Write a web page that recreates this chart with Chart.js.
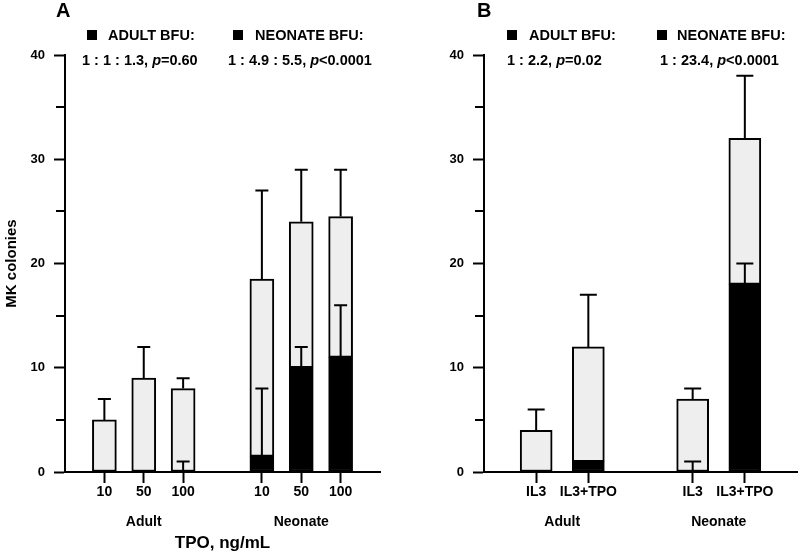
<!DOCTYPE html>
<html><head><meta charset="utf-8">
<script src="https://cdn.jsdelivr.net/npm/chart.js@4.4.1/dist/chart.umd.min.js"></script>
<style>
body{margin:0;background:#fff;}
#wrap{position:relative;width:800px;height:554px;overflow:hidden;background:#fff;}
canvas{position:absolute;top:0;}
.t{position:absolute;font:bold 14.5px/14px "Liberation Sans",Arial,sans-serif;color:#000;white-space:nowrap;z-index:2;}
.sq{position:absolute;width:10px;height:10px;background:#000;z-index:2;}
.h{position:absolute;font:bold 20px/19px "Liberation Sans",Arial,sans-serif;color:#000;z-index:2;}
</style></head>
<body><div id="wrap">
<canvas id="cA" width="400" height="554" style="left:0"></canvas>
<canvas id="cB" width="400" height="554" style="left:400px"></canvas>

<div class="h" style="left:56px;top:1px">A</div>
<div class="sq" style="left:87px;top:29.5px"></div>
<div class="t" style="left:108px;top:28px">ADULT BFU:</div>
<div class="sq" style="left:233px;top:29.5px"></div>
<div class="t" style="left:255px;top:28px">NEONATE BFU:</div>
<div class="t" style="left:82px;top:53px">1 : 1 : 1.3, <i>p</i>=0.60</div>
<div class="t" style="left:228px;top:53px">1 : 4.9 : 5.5, <i>p</i>&lt;0.0001</div>

<div class="h" style="left:477px;top:1px">B</div>
<div class="sq" style="left:507px;top:29.5px"></div>
<div class="t" style="left:529px;top:28px">ADULT BFU:</div>
<div class="sq" style="left:657px;top:29.5px"></div>
<div class="t" style="left:677px;top:28px">NEONATE BFU:</div>
<div class="t" style="left:507px;top:53px">1 : 2.2, <i>p</i>=0.02</div>
<div class="t" style="left:660px;top:53px">1 : 23.4, <i>p</i>&lt;0.0001</div>
</div>
<script>
// ---------- data ----------
const groupLabels = ['Adult', 'Neonate'];

// Panel A: TPO dose (ng/mL)
const tpoDoses = ['10', '50', '100'];
const aAdultTotal   = [5, 9, 8];
const aAdultTotalSD = [2, 3, 1];
const aAdultBFU     = [0, 0, 0];
const aAdultBFUSD   = [0, 0, 1];
const aNeoTotal     = [18.5, 24, 24.5];
const aNeoTotalSD   = [8.5, 5, 4.5];
const aNeoBFU       = [1.5, 10, 11];
const aNeoBFUSD     = [6.5, 2, 5];

// Panel B: cytokine condition
const cytokines = ['IL3', 'IL3+TPO'];
const bAdultTotal   = [4, 12];
const bAdultTotalSD = [2, 5];
const bAdultBFU     = [0, 1];
const bAdultBFUSD   = [0, 0];
const bNeoTotal     = [7, 32];
const bNeoTotalSD   = [1, 6];
const bNeoBFU       = [0, 18];
const bNeoBFUSD     = [1, 2];

const yTickMax = 40;
const yTickStep = 5;
const yLabelStep = 10;

// ---------- helpers ----------
const FONT = '"Liberation Sans", Arial, sans-serif';
Chart.defaults.font.family = FONT;
Chart.defaults.color = '#000';

function pad(a, b) { return [null, ...a, null, ...b, null]; }
function minus(t, s) { return t.map((v, i) => v - s[i]); }

const errorBars = {
  id: 'errorBars',
  afterDatasetsDraw(chart, args, opts) {
    const ctx = chart.ctx, ys = chart.scales.y;
    ctx.save();
    ctx.strokeStyle = '#000';
    ctx.lineWidth = 2;
    chart.data.datasets.forEach((ds, di) => {
      const meta = chart.getDatasetMeta(di);
      meta.data.forEach((el, i) => {
        const top = ds.errTop[i], sd = ds.errSD[i];
        if (top == null || !sd) return;
        const y0 = ys.getPixelForValue(top);
        const y1 = ys.getPixelForValue(top + sd);
        const x = el.x;
        ctx.beginPath();
        ctx.moveTo(x, y0); ctx.lineTo(x, y1);
        ctx.moveTo(x - opts.cap / 2, y1); ctx.lineTo(x + opts.cap / 2, y1);
        ctx.stroke();
      });
    });
    ctx.restore();
  }
};

// short minor ticks on the value axis (positions from the scale's own ticks)
const minorTicks = {
  id: 'minorTicks',
  afterDraw(chart, args, opts) {
    const s = chart.scales.y, ctx = chart.ctx;
    ctx.save();
    ctx.strokeStyle = '#000';
    ctx.lineWidth = 2;
    s.ticks.forEach(t => {
      if (t.value % yLabelStep === 0) return;
      const y = Math.round(s.getPixelForValue(t.value));
      ctx.beginPath();
      ctx.moveTo(s.right - 1 - opts.len, y);
      ctx.lineTo(s.right, y);
      ctx.stroke();
    });
    ctx.restore();
  }
};

function build(id, p) {
  const k = p.cats.length;
  const labels = ['', ...p.cats, '', ...p.cats, ''];
  const n = labels.length - 1;
  // group label axis at half-step resolution
  const gLabels = new Array(2 * n + 1).fill('');
  const adultC = (1 + k) / 2, neoC = adultC + k + 1;
  gLabels[Math.round(2 * adultC)] = groupLabels[0];
  gLabels[Math.round(2 * neoC)] = groupLabels[1];

  const bfu = pad(p.adultBFU, p.neoBFU);
  const rest = pad(minus(p.adultTotal, p.adultBFU), minus(p.neoTotal, p.neoBFU));
  const common = { borderColor: '#000', borderWidth: 2, borderSkipped: false, barThickness: p.barW };
  return new Chart(document.getElementById(id), {
    type: 'bar',
    data: {
      labels,
      datasets: [
        Object.assign({ data: bfu, backgroundColor: '#000',
          errTop: bfu, errSD: pad(p.adultBFUSD, p.neoBFUSD) }, common),
        Object.assign({ data: rest, backgroundColor: '#eeeeee',
          errTop: pad(p.adultTotal, p.neoTotal), errSD: pad(p.adultTotalSD, p.neoTotalSD) }, common)
      ]
    },
    plugins: [errorBars, minorTicks],
    options: {
      responsive: false, animation: false, devicePixelRatio: 1,
      layout: { padding: { top: 55, right: p.rightPad, bottom: 0, left: 0 } },
      plugins: { legend: { display: false }, tooltip: { enabled: false },
                 errorBars: { cap: p.cap }, minorTicks: { len: 8 } },
      scales: {
        x: {
          type: 'category', stacked: true, offset: false,
          grid: { offset: false, drawOnChartArea: false, drawTicks: true, tickLength: 11, tickWidth: 2,
                  color: c => (labels[c.index] ? '#000' : 'rgba(0,0,0,0)') },
          border: { display: true, width: 2, color: '#000' },
          ticks: { autoSkip: false, maxRotation: 0, padding: 1, color: '#000',
                   font: { size: 14, weight: 'bold' } },
          afterFit: s => { s.height = 31; }
        },
        xg: {
          type: 'category', position: 'bottom', labels: gLabels, offset: false,
          grid: { display: false, offset: false }, border: { display: false },
          ticks: { autoSkip: false, maxRotation: 0, padding: 3, color: '#000',
                   font: { size: 14, weight: 'bold' } },
          title: { display: !!p.xTitle, text: p.xTitle || '', color: '#000',
                   font: { size: 17, weight: 'bold' }, padding: { top: 0, bottom: 0 } },
          afterFit: s => { s.height = 51; }
        },
        y: {
          stacked: true, min: 0, max: yTickMax,
          grid: { drawOnChartArea: false, drawTicks: true, tickLength: 11, tickWidth: 2, color: '#000',
                  tickColor: c => (c.tick && c.tick.value % yLabelStep !== 0 ? 'rgba(0,0,0,0)' : '#000') },
          border: { display: true, width: 2, color: '#000' },
          ticks: { stepSize: yTickStep, autoSkip: false, padding: 9, color: '#000',
                   font: { size: 13, weight: 'bold' },
                   callback: v => (v % yLabelStep === 0 ? v : '') },
          title: { display: !!p.yTitle, text: p.yTitle || '', color: '#000',
                   font: { size: 15, weight: 'bold' }, padding: { top: 3, bottom: 0 } },
          afterFit: s => { s.width = p.yW; }
        }
      }
    }
  });
}

build('cA', { cats: tpoDoses, adultTotal: aAdultTotal, adultTotalSD: aAdultTotalSD, adultBFU: aAdultBFU, adultBFUSD: aAdultBFUSD,
  neoTotal: aNeoTotal, neoTotalSD: aNeoTotalSD, neoBFU: aNeoBFU, neoBFUSD: aNeoBFUSD,
  barW: 24, cap: 13, yW: 65, rightPad: 20, xTitle: 'TPO, ng/mL', yTitle: 'MK colonies' });

build('cB', { cats: cytokines, adultTotal: bAdultTotal, adultTotalSD: bAdultTotalSD, adultBFU: bAdultBFU, adultBFUSD: bAdultBFUSD,
  neoTotal: bNeoTotal, neoTotalSD: bNeoTotalSD, neoBFU: bNeoBFU, neoBFUSD: bNeoBFUSD,
  barW: 32, cap: 17, yW: 84, rightPad: 0, xTitle: '', yTitle: '' });
</script>
</body></html>
